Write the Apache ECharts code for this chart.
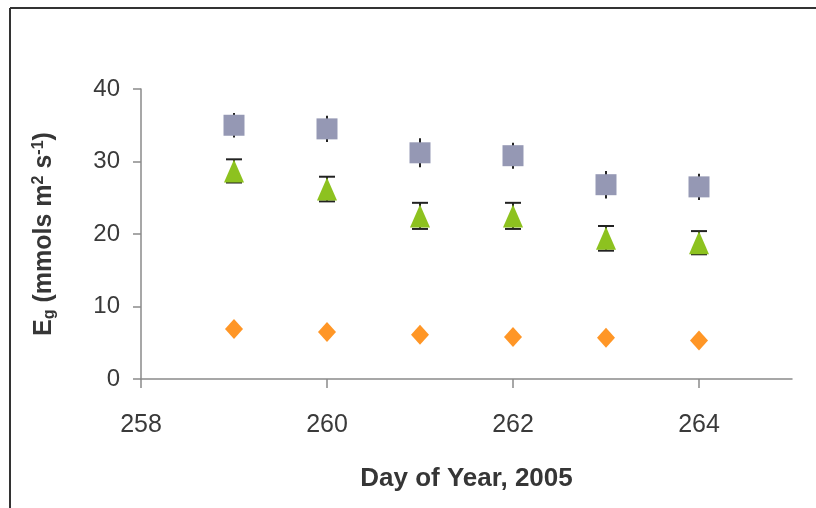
<!DOCTYPE html>
<html>
<head>
<meta charset="utf-8">
<script src="https://cdn.jsdelivr.net/npm/echarts@6/dist/echarts.min.js"></script>
<style>
  html, body { margin: 0; padding: 0; background: #fff; }
  #chart { width: 816px; height: 508px; }
</style>
</head>
<body>
<div id="chart"></div>
<script>
// Day of year for each measurement
const days = [259, 260, 261, 262, 263, 264];

// Upper group (squares) with error half-widths
const squareValues = [35.0, 34.5, 31.2, 30.8, 26.8, 26.5];
const squareErrors = [1.7, 1.8, 2.0, 1.8, 1.9, 1.8];

// Middle group (triangles) with error half-widths
const triangleValues = [28.7, 26.2, 22.5, 22.5, 19.4, 18.8];
const triangleErrors = [1.6, 1.7, 1.8, 1.8, 1.7, 1.6];

// Lower group (diamonds)
const diamondValues = [6.9, 6.5, 6.1, 5.8, 5.7, 5.3];

// Axis ticks
const xTicks = [258, 260, 262, 264];
const yTicks = [0, 10, 20, 30, 40];

const FONT = '"Liberation Sans", Arial, sans-serif';

function pairs(vals) {
  return days.map((d, i) => [d, vals[i]]);
}
function errData(vals, errs) {
  return days.map((d, i) => [d, vals[i] - errs[i], vals[i] + errs[i]]);
}
function errorBars(capHalf) {
  return function (params, api) {
    const x = api.value(0);
    const lo = api.coord([x, api.value(1)]);
    const hi = api.coord([x, api.value(2)]);
    const style = { stroke: '#222', lineWidth: 2 };
    const children = [
      { type: 'line', shape: { x1: lo[0], y1: lo[1], x2: hi[0], y2: hi[1] }, style }
    ];
    if (capHalf > 0) {
      children.push(
        { type: 'line', shape: { x1: lo[0] - capHalf, y1: lo[1], x2: lo[0] + capHalf, y2: lo[1] }, style },
        { type: 'line', shape: { x1: hi[0] - capHalf, y1: hi[1], x2: hi[0] + capHalf, y2: hi[1] }, style }
      );
    }
    return { type: 'group', children };
  };
}

const chart = echarts.init(document.getElementById('chart'), null, { renderer: 'canvas' });

chart.setOption({
  animation: false,
  backgroundColor: '#fff',
  grid: { left: 141, right: 24, top: 89, bottom: 129 },
  xAxis: {
    type: 'value',
    min: 258,
    max: 265,
    interval: 2,
    name: 'Day of Year, 2005',
    nameLocation: 'middle',
    nameGap: 87,
    nameTextStyle: { fontFamily: FONT, fontSize: 26, fontWeight: 'bold', color: '#363636' },
    axisLine: { show: true, onZero: false, lineStyle: { color: '#8a8a8a', width: 1.5 } },
    axisTick: { show: true, length: 9, lineStyle: { color: '#8a8a8a', width: 1.5 } },
    axisLabel: {
      fontFamily: FONT, fontSize: 25, color: '#3a3a3a', margin: 34,
      showMaxLabel: false,
      formatter: v => (xTicks.includes(v) ? String(v) : '')
    },
    splitLine: { show: false }
  },
  yAxis: {
    type: 'value',
    min: 0,
    max: 40,
    interval: 10,
    name: '{b|E}{sub|g}{b| (mmols m}{sup|2}{b| s}{sup|-1}{b|)}',
    nameLocation: 'middle',
    nameGap: 82,
    nameRotate: 90,
    nameTextStyle: {
      rich: {
        b: { fontFamily: FONT, fontSize: 25, fontWeight: 'bold', color: '#363636', lineHeight: 30, verticalAlign: 'middle' },
        sub: { fontFamily: FONT, fontSize: 16, fontWeight: 'bold', color: '#363636', lineHeight: 30, verticalAlign: 'bottom', padding: [0, 0, 1, 0] },
        sup: { fontFamily: FONT, fontSize: 16, fontWeight: 'bold', color: '#363636', lineHeight: 30, verticalAlign: 'top', padding: [2, 0, 0, 0] }
      }
    },
    axisLine: { show: true, lineStyle: { color: '#8a8a8a', width: 1.5 } },
    axisTick: { show: true, inside: false, length: 8, lineStyle: { color: '#8a8a8a', width: 1.5 } },
    axisLabel: {
      fontFamily: FONT, fontSize: 24, color: '#3a3a3a', margin: 21,
      formatter: v => (yTicks.includes(v) ? String(v) : '')
    },
    splitLine: { show: false }
  },
  series: [
    {
      type: 'custom',
      renderItem: errorBars(0),
      data: errData(squareValues, squareErrors),
      z: 1,
      silent: true
    },
    {
      type: 'custom',
      renderItem: errorBars(8),
      data: errData(triangleValues, triangleErrors),
      z: 1,
      silent: true
    },
    {
      type: 'scatter',
      data: pairs(squareValues),
      symbol: 'rect',
      symbolSize: 21,
      itemStyle: { color: '#9598b4', opacity: 1 },
      z: 3
    },
    {
      type: 'scatter',
      data: pairs(triangleValues),
      symbol: 'triangle',
      symbolSize: [20, 23],
      itemStyle: { color: '#8dc21f', opacity: 1 },
      z: 3
    },
    {
      type: 'scatter',
      data: pairs(diamondValues),
      symbol: 'diamond',
      symbolSize: [18, 20],
      itemStyle: { color: '#ff9626', opacity: 1 },
      z: 3
    }
  ],
  graphic: [
    { type: 'line', shape: { x1: 10, y1: 8, x2: 816, y2: 8 }, style: { stroke: '#333', lineWidth: 2 } },
    { type: 'line', shape: { x1: 10, y1: 8, x2: 10, y2: 508 }, style: { stroke: '#333', lineWidth: 2 } }
  ]
});
</script>
</body>
</html>
